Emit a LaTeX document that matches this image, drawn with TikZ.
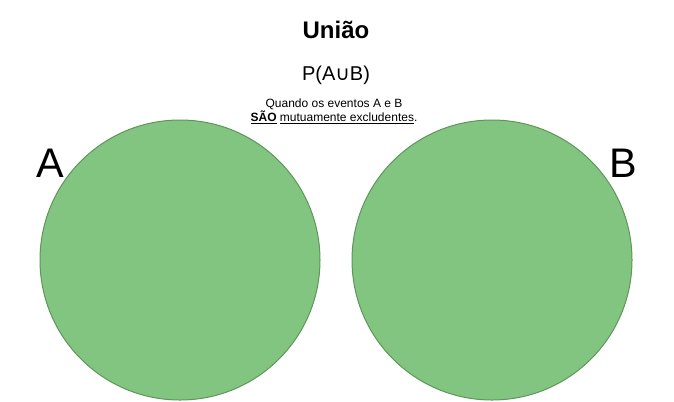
\documentclass[tikz,border=0pt]{standalone}
\usepackage{fontspec}
\setmainfont{Liberation Sans}
\newfontfamily\dejavu{DejaVu Sans}
\definecolor{setfill}{RGB}{130,197,128}
\definecolor{setline}{RGB}{94,150,90}
\begin{document}
\begin{tikzpicture}[x=0.75pt,y=-0.75pt,
  setcircle/.style={circle,draw=setline,fill=setfill,line width=0.75pt,minimum size=210pt,inner sep=0pt},
  lbl/.style={anchor=base,inner sep=0pt}]
\useasboundingbox (0,0) rectangle (674,401);
\node[lbl,font=\fontsize{18pt}{21pt}\selectfont\bfseries] (title) at (336,38) {União};
\node[lbl,font=\fontsize{15pt}{18pt}\selectfont] (formula) at (336,80) {P(A{\dejavu ∪}B)};
\node[lbl,font=\fontsize{9pt}{10.5pt}\selectfont,align=center] (note) at (334,121) {Quando os eventos A e B\\\underline{\textbf{SÃO}} \underline{mutuamente excludentes}.};
\node[setcircle] (A) at (180,260) {};
\node[setcircle] (B) at (492,260) {};
\node[lbl,font=\fontsize{31pt}{36pt}\selectfont] (la) at (50,177) {A};
\node[lbl,font=\fontsize{31pt}{36pt}\selectfont] (lb) at (623,177) {B};
\end{tikzpicture}
\end{document}
